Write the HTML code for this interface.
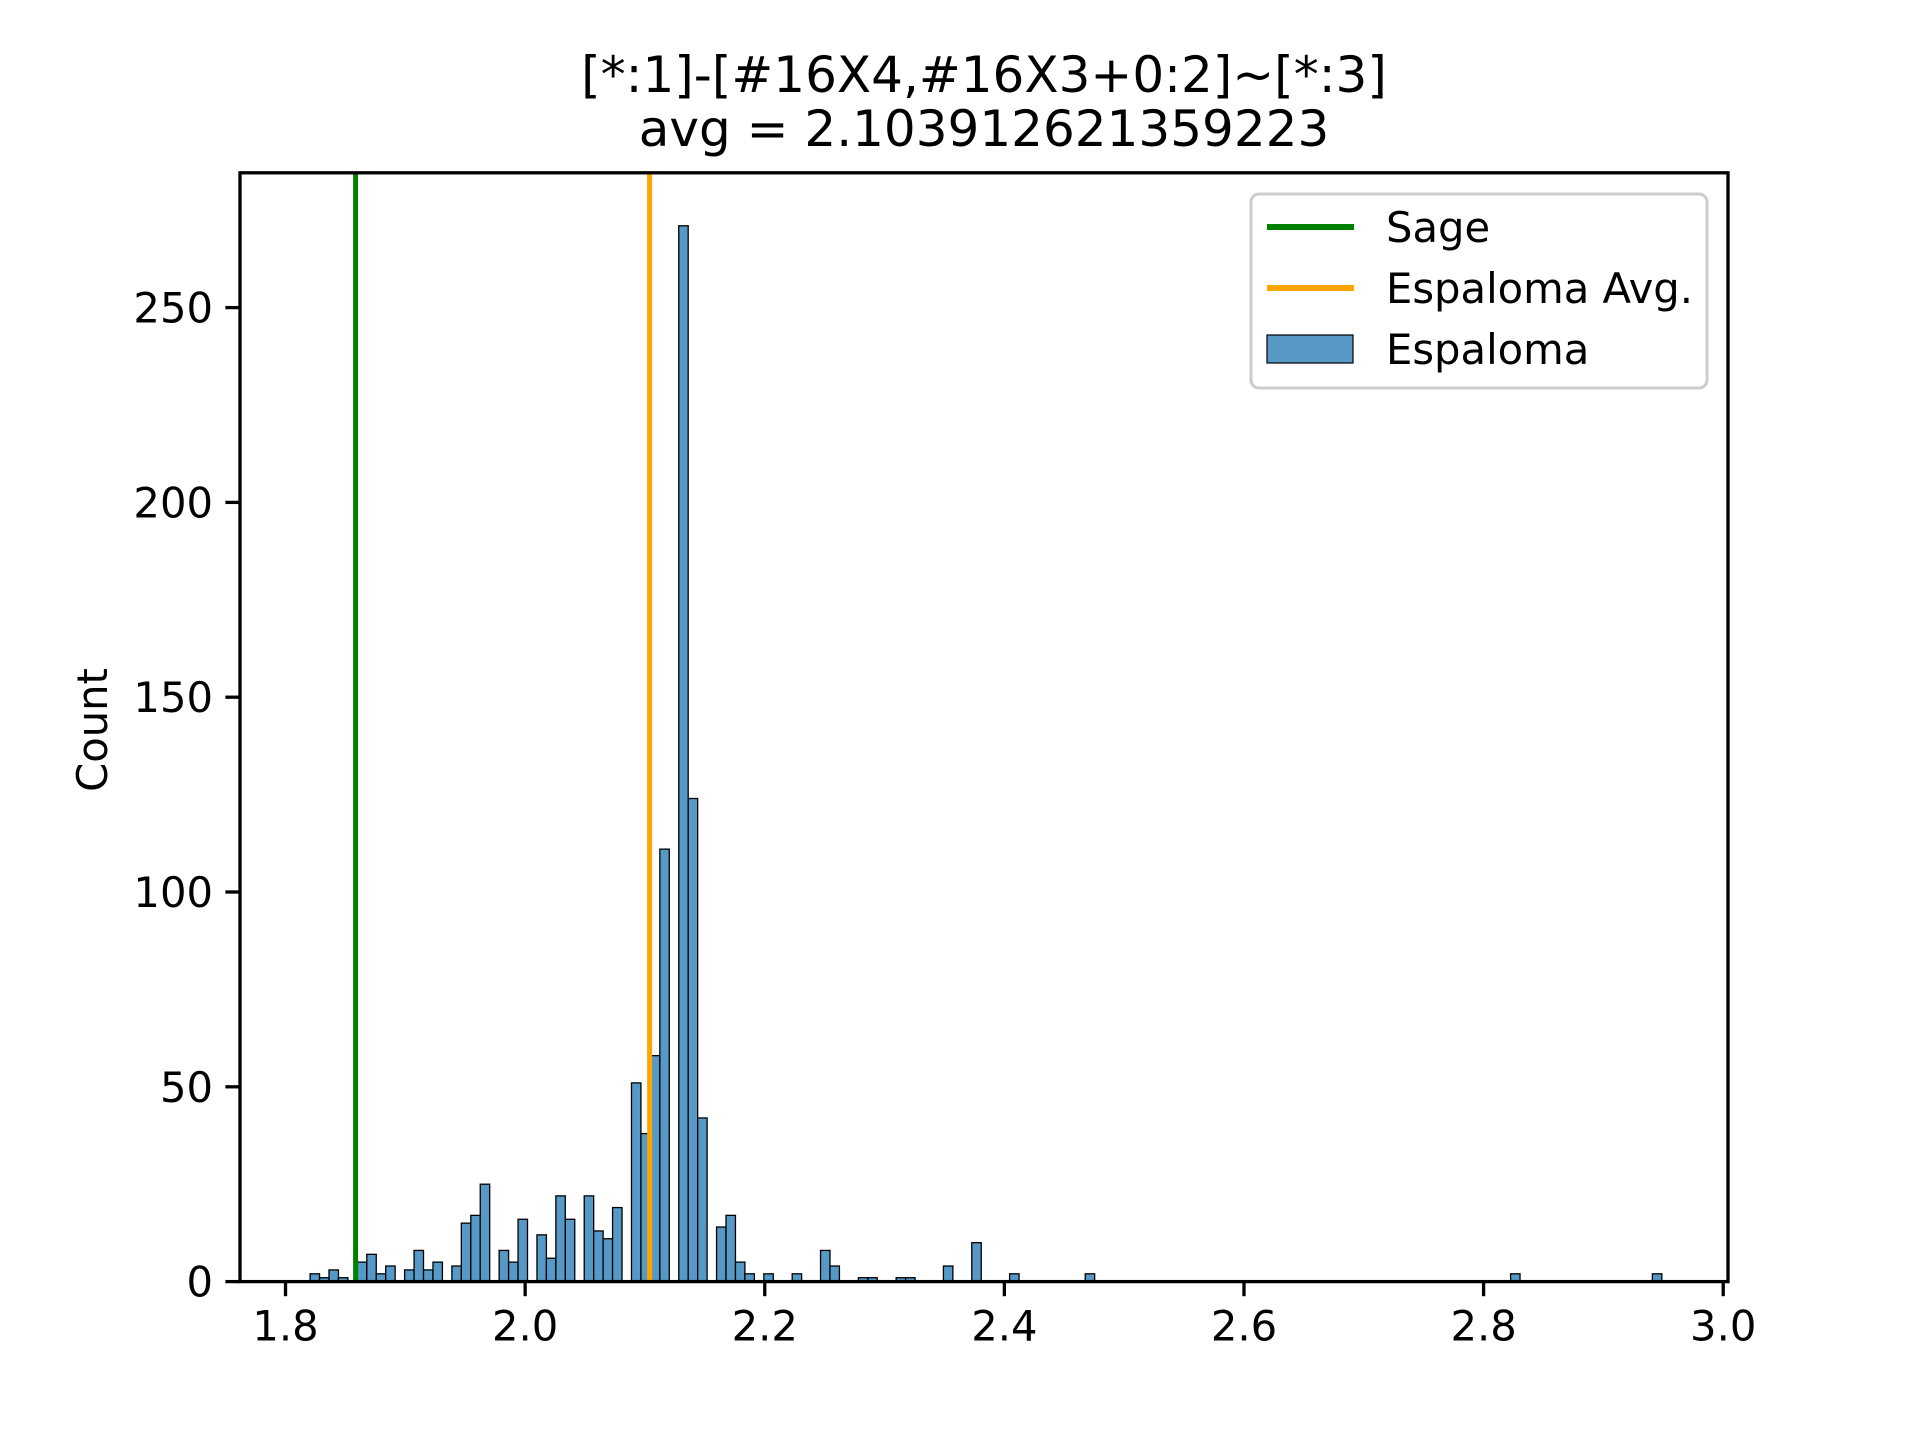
<!DOCTYPE html>
<html><head><meta charset="utf-8">
<style>
html,body{margin:0;padding:0;background:#fff;}
svg{display:block;font-family:"DejaVu Sans","Liberation Sans",sans-serif;}
</style></head>
<body>
<svg id="chart" width="1920" height="1440" viewBox="0 0 1920 1440" xmlns="http://www.w3.org/2000/svg">
<rect width="1920" height="1440" fill="#fff"/>
<text x="984" y="92" font-size="50" text-anchor="middle">[*:1]-[#16X4,#16X3+0:2]~[*:3]</text>
<text x="984" y="146" font-size="50" text-anchor="middle">avg = 2.103912621359223</text>
<g id="bars"></g>
<g id="vlines"></g>
<g id="axes"></g>
<text x="0" y="0" font-size="41.7" text-anchor="middle" transform="translate(107,730) rotate(-90)">Count</text>
<g>
<rect x="1251" y="194" width="456" height="194" rx="8" fill="#fff" fill-opacity="0.8" stroke="#cccccc" stroke-width="3"/>
<line x1="1267" y1="227" x2="1354" y2="227" stroke="#008000" stroke-width="6"/>
<text x="1386" y="242" font-size="41.7">Sage</text>
<line x1="1267" y1="288" x2="1354" y2="288" stroke="#ffa500" stroke-width="6"/>
<text x="1386" y="303" font-size="41.7">Espaloma Avg.</text>
<rect x="1267" y="335" width="86" height="28" fill="#5698c6" stroke="#000" stroke-width="1.2"/>
<text x="1386" y="364" font-size="41.7">Espaloma</text>
</g>
</svg>
<script>
const binStart = 1.8205;
const binWidth = 0.00789;
const binIndex = [0,1,2,3,5,6,7,8,10,11,12,13,15,16,17,18,20,21,22,24,25,26,27,29,30,31,32,34,35,36,37,39,40,41,43,44,45,46,48,51,54,55,58,59,62,63,67,70,74,82,127,142];
const counts   = [2,1,3,1,5,7,2,4,3,8,3,5,4,15,17,25,8,5,16,12,6,22,16,22,13,11,19,51,38,58,111,271,124,42,14,17,5,2,2,2,8,4,1,1,1,1,4,10,2,2,2,2];
const xTicks = [1.8,2.0,2.2,2.4,2.6,2.8,3.0];
const xTickLabels = ["1.8","2.0","2.2","2.4","2.6","2.8","3.0"];
const yTicks = [0,50,100,150,200,250];
const yTickLabels = ["0","50","100","150","200","250"];
const sageValue = 1.8585;
const avgValue = 2.103912621359223;

const NS = "http://www.w3.org/2000/svg";
const L = 240, R = 1728, T = 172.8, B = 1281.6;
const xMin = 1.762, xMax = 3.004, yMin = 0, yMax = 284.6;
function xs(v){ return L + (v - xMin) / (xMax - xMin) * (R - L); }
function ys(v){ return B - (v - yMin) / (yMax - yMin) * (B - T); }
function mk(tag, attrs, parent){
  const e = document.createElementNS(NS, tag);
  for (const k in attrs) e.setAttribute(k, attrs[k]);
  parent.appendChild(e);
  return e;
}
const barsG = document.getElementById('bars');
for (let i = 0; i < counts.length; i++) {
  const x0 = xs(binStart + binIndex[i] * binWidth);
  const x1 = xs(binStart + (binIndex[i] + 1) * binWidth);
  const r = mk('rect', {x: x0, y: ys(counts[i]), width: x1 - x0, height: ys(0) - ys(counts[i]), fill: '#5698c6', stroke: '#000', 'stroke-width': 1.3}, barsG);
  
  
}
const vG = document.getElementById('vlines');
const g1 = mk('line', {x1: xs(sageValue), x2: xs(sageValue), y1: T, y2: B, stroke: '#008000', 'stroke-width': 5}, vG);


const o1 = mk('line', {x1: xs(avgValue), x2: xs(avgValue), y1: T, y2: B, stroke: '#ffa500', 'stroke-width': 5}, vG);



const axG = document.getElementById('axes');
const frame = mk('rect', {x: L, y: T, width: R - L, height: B - T, fill: 'none', stroke: '#000', 'stroke-width': 3.3}, axG);


for (let i = 0; i < xTicks.length; i++) {
  const x = xs(xTicks[i]);
  const t = mk('line', {x1: x, x2: x, y1: B, y2: B + 14.6, stroke: '#000', 'stroke-width': 3.3}, axG);
  
  
  const lb = mk('text', {x: x, y: B + 59, 'font-size': 41.7, 'text-anchor': 'middle'}, axG);
  lb.textContent = xTickLabels[i];
  
  
}
for (let i = 0; i < yTicks.length; i++) {
  const y = ys(yTicks[i]);
  const t = mk('line', {x1: L - 14.6, x2: L, y1: y, y2: y, stroke: '#000', 'stroke-width': 3.3}, axG);
  
  
  const lb = mk('text', {x: L - 27, y: y + 15, 'font-size': 41.7, 'text-anchor': 'end'}, axG);
  lb.textContent = yTickLabels[i];
  
  
}
</script>
</body></html>
